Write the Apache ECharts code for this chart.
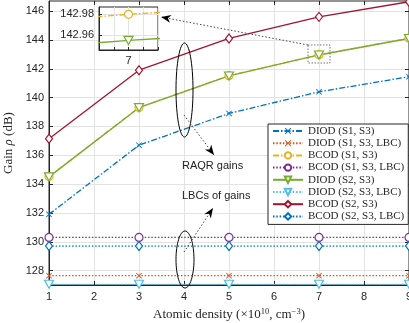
<!DOCTYPE html>
<html>
<head>
<meta charset="utf-8">
<script src="https://cdn.jsdelivr.net/npm/echarts@6/dist/echarts.min.js"></script>
<style>
  html, body { margin: 0; padding: 0; background: #fff; }
  #main { width: 409px; height: 323px; }
</style>
</head>
<body>
<div id="main"></div>
<script>
// atomic density (x10^10 cm^-3)
const xVals = [1, 3, 5, 7, 9];
const diodS1S3 = [131.9, 136.7, 138.9, 140.4, 141.45];
const diodS1S3Lbc = [127.65, 127.65, 127.65, 127.65, 127.65];
const bcodS1S3 = [134.52, 139.32, 141.52, 142.98, 144.12];
const bcodS1S3Lbc = [130.3, 130.3, 130.3, 130.3, 130.3];
const diodS2S3 = [134.5, 139.3, 141.5, 142.955, 144.1];
const diodS2S3Lbc = [127.05, 127.05, 127.05, 127.05, 127.05];
const bcodS2S3 = [137.15, 141.9, 144.1, 145.6, 146.65];
const bcodS2S3Lbc = [129.7, 129.7, 129.7, 129.7, 129.7];

const yTicks = [128, 130, 132, 134, 136, 138, 140, 142, 144, 146];
const insetYTicks = [142.96, 142.98];

const axisColor = '#262626';
const gridColor = '#e3e3e3';
const sans = 'Liberation Sans';
const serif = 'Liberation Serif';

const crossSym = 'path://M1,0L5,4L9,0L10,1L6,5L10,9L9,10L5,6L1,10L0,9L4,5L0,1Z';
const triDown = 'path://M0,0L10,0L5,9Z';
const dashDot = [6, 2, 1.5, 2];
const dotted = [1.5, 1.8];

function pairs(ys) {
  return xVals.map((x, i) => [x, ys[i]]);
}

function mk(name, ys, color, lineType, symbol, size, hollow, xi, yi) {
  return {
    name: name,
    type: 'line',
    xAxisIndex: xi || 0,
    yAxisIndex: yi || 0,
    data: pairs(ys),
    symbol: symbol,
    symbolSize: size,
    showSymbol: true,
    color: color,
    lineStyle: { color: color, width: 1.3, type: lineType },
    itemStyle: hollow
      ? { color: '#fff', borderColor: color, borderWidth: 1.2 }
      : { color: color, borderWidth: 0 },
    emphasis: { disabled: true },
    animation: false
  };
}

const mainSeries = [
  mk('DIOD (S1, S3)', diodS1S3, '#0072BD', dashDot, crossSym, 6, false),
  mk('DIOD (S1, S3, LBC)', diodS1S3Lbc, '#D95319', dotted, crossSym, 6, false),
  mk('BCOD (S1, S3)', bcodS1S3, '#EDB120', dashDot, 'circle', 8, true),
  mk('BCOD (S1, S3, LBC)', bcodS1S3Lbc, '#7E2F8E', dotted, 'circle', 8, true),
  mk('DIOD (S2, S3)', diodS2S3, '#77AC30', 'solid', triDown, [9, 8], true),
  mk('DIOD (S2, S3, LBC)', diodS2S3Lbc, '#4DBEEE', dotted, triDown, [9, 8], true),
  mk('BCOD (S2, S3)', bcodS2S3, '#A2142F', 'solid', 'diamond', [7, 9], true),
  mk('BCOD (S2, S3, LBC)', bcodS2S3Lbc, '#0072BD', dotted, 'diamond', [7, 9], true)
];

const insetSeries = [
  mk('inset1', bcodS1S3, '#EDB120', dashDot, 'circle', 8, true, 2, 2),
  mk('inset2', diodS2S3, '#77AC30', 'solid', triDown, [9, 8], true, 2, 2)
];
insetSeries.forEach(s => { s.z = 8; });

// arrow head polygon pointing at tip, coming from "from"
function arrowHead(tip, from) {
  const dx = tip[0] - from[0], dy = tip[1] - from[1];
  const l = Math.sqrt(dx * dx + dy * dy);
  const ux = dx / l, uy = dy / l, px = -uy, py = ux;
  const len = 10, w = 4, notch = 3;
  return [
    tip,
    [tip[0] - ux * len + px * w, tip[1] - uy * len + py * w],
    [tip[0] - ux * (len - notch), tip[1] - uy * (len - notch)],
    [tip[0] - ux * len - px * w, tip[1] - uy * len - py * w]
  ];
}

function arrow(from, tip) {
  return [
    { type: 'line', shape: { x1: from[0], y1: from[1], x2: tip[0], y2: tip[1] },
      style: { stroke: '#444', lineWidth: 1, lineDash: [1.5, 2] }, z: 20 },
    { type: 'polygon', shape: { points: arrowHead(tip, from) },
      style: { fill: '#000' }, z: 20 }
  ];
}

const chart = echarts.init(document.getElementById('main'), null, { renderer: 'canvas' });

chart.setOption({
  backgroundColor: '#fff',
  animation: false,
  grid: [
    { left: 49, right: 0, top: 1, bottom: 38, show: true, borderColor: axisColor, borderWidth: 1, z: 0,
      outerBoundsMode: 'none' },
    { left: 49, right: 0, top: 1, bottom: 38, show: false, outerBoundsMode: 'none' },
    { left: 99, top: 7, width: 59, height: 43, show: true, backgroundColor: '#fff',
      borderColor: axisColor, borderWidth: 1, z: 5, outerBoundsMode: 'none' }
  ],
  xAxis: [
    {
      gridIndex: 0, type: 'value', min: 1, max: 9, interval: 1,
      axisLine: { show: true, lineStyle: { color: axisColor, width: 1 } },
      axisTick: { show: true, inside: true, length: 4, lineStyle: { color: axisColor } },
      axisLabel: { color: axisColor, fontFamily: sans, fontSize: 11, margin: 6 },
      splitLine: { show: true, lineStyle: { color: gridColor, width: 1 } },
      name: '{a|Atomic density (×10}{s|10}{a|, cm}{s|−3}{a|)}',
      nameLocation: 'middle', nameGap: 18,
      nameTextStyle: {
        rich: {
          a: { fontFamily: serif, fontSize: 13, color: axisColor, lineHeight: 16 },
          s: { fontFamily: serif, fontSize: 8.5, color: axisColor, verticalAlign: 'top', lineHeight: 9 }
        }
      }
    },
    {
      gridIndex: 1, type: 'value', min: 1, max: 9, interval: 1, position: 'top',
      axisLine: { show: false },
      axisTick: { show: true, inside: true, length: 4, lineStyle: { color: axisColor } },
      axisLabel: { show: false },
      splitLine: { show: false }
    },
    {
      gridIndex: 2, type: 'value', min: 6.997, max: 7.003, interval: 0.0015, z: 6,
      axisLine: { show: true, lineStyle: { color: axisColor } },
      axisTick: { show: true, inside: true, length: 3, lineStyle: { color: axisColor } },
      axisLabel: {
        color: axisColor, fontFamily: sans, fontSize: 11, margin: 5,
        formatter: v => (Math.abs(v - 7) < 1e-6 ? '7' : '')
      },
      splitLine: { show: true, lineStyle: { color: gridColor } }
    }
  ],
  yAxis: [
    {
      gridIndex: 0, type: 'value', min: 127, max: 146.7,
      axisLine: { show: true, lineStyle: { color: axisColor, width: 1 } },
      axisTick: { show: true, inside: true, length: 4, customValues: yTicks, lineStyle: { color: axisColor } },
      axisLabel: { color: axisColor, fontFamily: sans, fontSize: 11, margin: 5, customValues: yTicks },
      splitLine: { show: true, lineStyle: { color: gridColor, width: 1 } },
      name: '{a|Gain }{i|ρ}{a| (dB)}',
      nameLocation: 'middle', nameGap: 27,
      nameTextStyle: {
        rich: {
          a: { fontFamily: serif, fontSize: 13, color: axisColor },
          i: { fontFamily: serif, fontSize: 13, color: axisColor, fontStyle: 'italic' }
        }
      }
    },
    {
      gridIndex: 1, type: 'value', min: 127, max: 146.7, position: 'right',
      axisLine: { show: false },
      axisTick: { show: true, inside: true, length: 4, customValues: yTicks, lineStyle: { color: axisColor } },
      axisLabel: { show: false, customValues: yTicks },
      splitLine: { show: false }
    },
    {
      gridIndex: 2, type: 'value', min: 142.9458, max: 142.987, z: 6,
      axisLine: { show: true, lineStyle: { color: axisColor } },
      axisTick: { show: true, inside: true, length: 3, customValues: insetYTicks, lineStyle: { color: axisColor } },
      axisLabel: {
        color: axisColor, fontFamily: sans, fontSize: 11, margin: 5, customValues: insetYTicks,
        formatter: v => v.toFixed(2)
      },
      splitLine: { show: true, lineStyle: { color: gridColor } }
    }
  ],
  legend: {
    data: mainSeries.map(s => s.name),
    orient: 'vertical',
    left: 268, top: 124,
    padding: [1, 4, 2, 4],
    itemGap: 0.2,
    itemWidth: 30, itemHeight: 8,
    backgroundColor: '#fff',
    borderColor: axisColor, borderWidth: 1,
    borderRadius: 0,
    selectedMode: false,
    textStyle: { fontFamily: serif, fontSize: 11, color: axisColor, lineHeight: 12 },
    z: 10
  },
  series: mainSeries.concat(insetSeries),
  graphic: [
    { type: 'ellipse', shape: { cx: 184.5, cy: 90, rx: 8.5, ry: 47 },
      style: { fill: 'none', stroke: '#000', lineWidth: 1 }, z: 20 },
    { type: 'ellipse', shape: { cx: 185, cy: 259.5, rx: 9, ry: 28.5 },
      style: { fill: 'none', stroke: '#000', lineWidth: 1 }, z: 20 },
    { type: 'rect', shape: { x: 308, y: 45, width: 22, height: 18 },
      style: { fill: 'none', stroke: '#777', lineWidth: 1, lineDash: [1.5, 1.5] }, z: 20 },
    { type: 'text', left: 182, top: 160,
      style: { text: 'RAQR gains', fontFamily: sans, fontSize: 11, fill: '#222' }, z: 20 },
    { type: 'text', left: 182, top: 190,
      style: { text: 'LBCs of gains', fontFamily: sans, fontSize: 11, fill: '#222' }, z: 20 }
  ].concat(arrow([184, 115], [214, 155]))
   .concat(arrow([184, 252], [213, 208]))
   .concat(arrow([308, 45], [161, 17]))
});
</script>
</body>
</html>
